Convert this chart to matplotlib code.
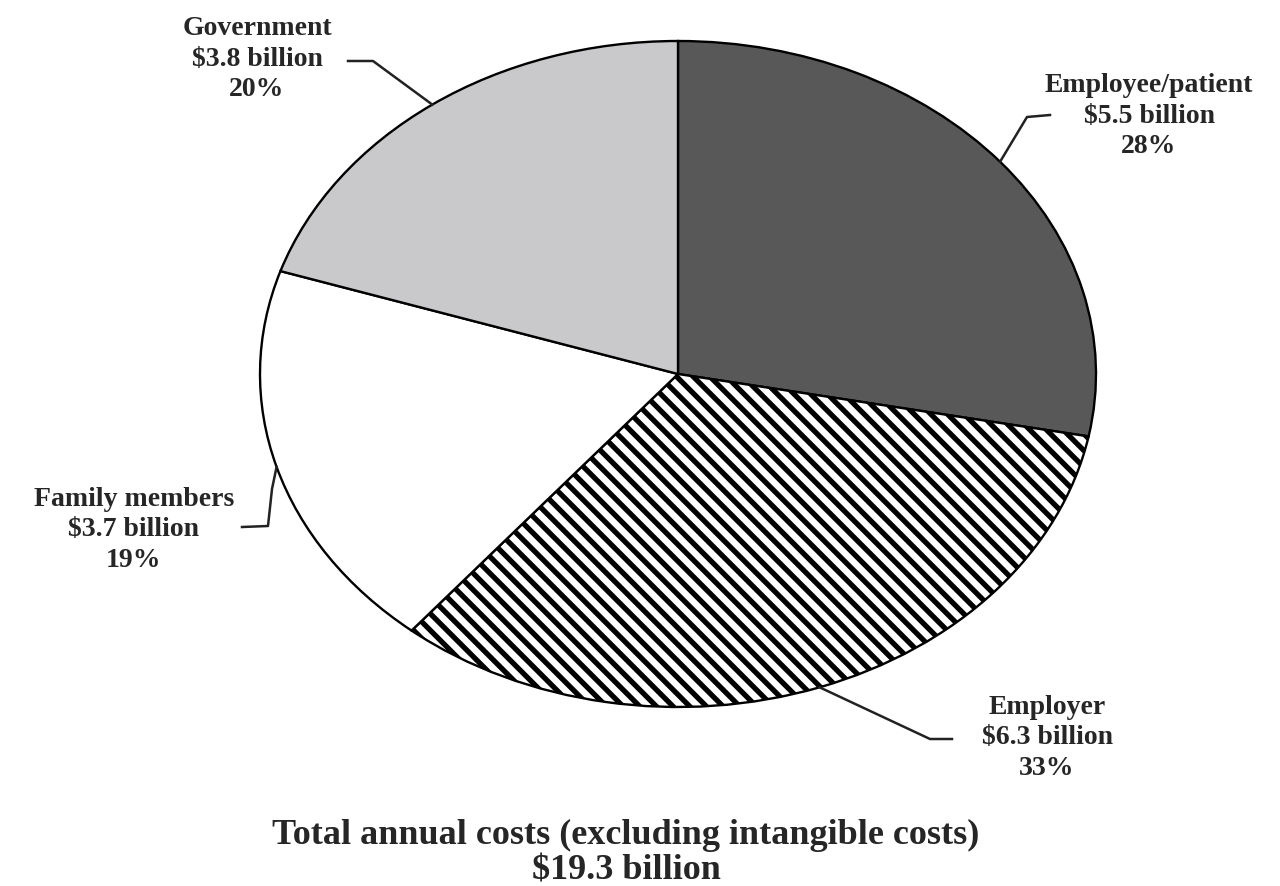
#Pie chart: distribution of total annual costs by payer
#
import numpy as np
import matplotlib
matplotlib.use('Agg')
import matplotlib.pyplot as plt

# Data (clockwise from 12 o'clock)
payers = ['Employee/patient', 'Employer', 'Family members', 'Government']
costs_billion = [5.5, 6.3, 3.7, 3.8]
shares_pct = [28, 33, 19, 20]
total_billion = 19.3

colors = ['#585858', 'white', 'white', '#c9c9cb']
hatches = [None, '\\\\', None, None]

plt.rcParams['font.family'] = ['Liberation Serif', 'DejaVu Serif']
plt.rcParams['hatch.linewidth'] = 3.8

W, H = 1280, 887
fig = plt.figure(figsize=(W / 100, H / 100), dpi=100)

# pie is an ellipse: centre and radii in pixels
cx, cy, rx, ry = 678, 375, 418, 333
ax = fig.add_axes([(cx - rx) / W, 1 - (cy + ry) / H, 2 * rx / W, 2 * ry / H])

wedges, _ = ax.pie(shares_pct, colors=colors, startangle=90, counterclock=False,
                   wedgeprops=dict(edgecolor='black', linewidth=1.7))
for w, h in zip(wedges, hatches):
    if h:
        w.set_hatch(h)
ax.set_aspect('auto')
ax.set_xlim(-1, 1)
ax.set_ylim(-1, 1)
ax.axis('off')

def px(x, y):
    # pixel position -> data coords of the pie axes
    return (x - cx) / rx, (cy - y) / ry

# label centres and leader line points (pixels), from label side towards the pie
label_pos = [(1149, 116), (1047, 738), (134, 530), (257, 59)]
leaders = [
    [(1050, 116), (1027, 118)],
    [(952, 740), (930, 740)],
    [(242, 528), (268, 527), (272, 490)],
    [(348, 62), (373, 62)],
]

txt_col = '#262626'
for w, name, cost, pct, pos, pts in zip(wedges, payers, costs_billion, shares_pct,
                                        label_pos, leaders):
    mid = np.deg2rad((w.theta1 + w.theta2) / 2)
    xs = [px(*p)[0] for p in pts] + [np.cos(mid)]
    ys = [px(*p)[1] for p in pts] + [np.sin(mid)]
    ax.plot(xs, ys, color='#222222', lw=1.8, clip_on=False)
    tx, ty = px(*pos)
    ax.text(tx, ty, f'{name}\n${cost} billion\n{pct}%', ha='center', va='center',
            fontsize=20, fontweight='bold', color=txt_col, linespacing=1.3,
            clip_on=False)

fig.text(626 / W, 1 - 853 / H,
         f'Total annual costs (excluding intangible costs)\n${total_billion} billion',
         ha='center', va='center', fontsize=26, fontweight='bold', color=txt_col,
         linespacing=1.12)

fig.savefig('out.png', dpi=100, facecolor='white')
